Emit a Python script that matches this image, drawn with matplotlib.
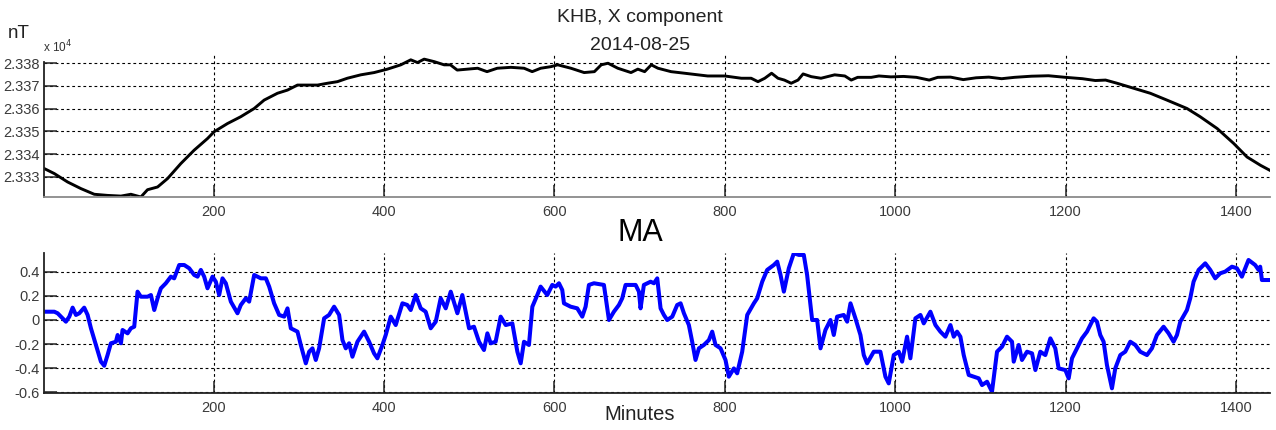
import numpy as np
import matplotlib
matplotlib.use('Agg')
import matplotlib.pyplot as plt

plt.rcParams['font.family'] = ['Liberation Sans', 'DejaVu Sans']

# X component (nT)
x_min = [1.3, 13.1, 28.7, 44.3, 60, 75.6, 91.3, 103, 114.7, 122.5, 134.3, 146, 161.6,
         177.3, 192.9, 200.7, 216.4, 232, 247.7, 259.4, 275, 286.8, 298.5, 310, 322,
         333.7, 345.4, 357, 372.8, 388.5, 404, 419.8, 431.5, 439.4, 447.2, 459, 470.7,
         478, 486, 498, 510, 521, 533, 549, 564.5, 574, 584, 596, 604, 619.5, 635, 647,
         655, 663, 674.5, 690, 698, 706, 713.8, 721.6, 737, 753, 768.6, 780, 800, 819.5,
         831, 839, 847, 855, 862.5, 870, 878, 886, 892, 901.6, 913, 929, 941, 948.5, 956,
         972, 981, 995, 1010, 1025, 1040, 1050, 1065, 1080, 1095, 1110, 1125, 1140, 1160,
         1180, 1200, 1220, 1235, 1247, 1260.5, 1280, 1299.5, 1319, 1342.6, 1358, 1378,
         1397.5, 1413, 1429, 1440]
x_val = [23333.7, 23331.5, 23327.8, 23324.9, 23322.4, 23321.9, 23321.6, 23322.4, 23321.2,
         23324.4, 23325.6, 23329.3, 23335.9, 23341.8, 23346.9, 23349.9, 23353.5, 23356.5,
         23360.1, 23363.8, 23366.8, 23368.2, 23370.4, 23370.4, 23370.4, 23371.2, 23371.9,
         23373.4, 23374.9, 23375.9, 23377.4, 23379.3, 23381.5, 23380.3, 23381.8, 23380.7,
         23379.3, 23379.3, 23377.0, 23377.4, 23377.8, 23376.3, 23377.8, 23378.2, 23377.8,
         23376.3, 23377.8, 23378.5, 23379.3, 23377.8, 23375.9, 23376.3, 23379.3, 23380.0,
         23377.8, 23375.9, 23377.4, 23376.3, 23379.3, 23377.8, 23376.3, 23375.6, 23374.9,
         23374.4, 23374.4, 23373.4, 23373.4, 23371.9, 23373.4, 23375.6, 23373.4, 23372.6,
         23371.2, 23372.6, 23375.3, 23374.1, 23373.4, 23374.9, 23374.4, 23372.6, 23373.8,
         23373.8, 23374.4, 23374.0, 23374.2, 23373.8, 23372.6, 23373.8, 23373.9, 23372.8,
         23373.6, 23373.9, 23373.2, 23373.8, 23374.3, 23374.5, 23373.8, 23373.2, 23372.4,
         23372.6, 23371.2, 23369.0, 23366.8, 23363.8, 23360.1, 23356.5, 23351.3, 23344.7,
         23338.8, 23335.1, 23332.9]

# MA series
ma_min = [1.3, 13.1, 17.0, 20.9, 26.7, 30.7, 34.6, 38.5, 42.4, 48.2, 52.2, 56.1, 61.9,
          67.8, 71.7, 75.6, 79.5, 85.4, 87.4, 91.3, 93.2, 99.1, 103, 106.9, 110.8, 114.7,
          122.5, 126.5, 130.4, 134.3, 138.2, 144.0, 149.9, 153.8, 159.7, 165.6, 171.4,
          177.3, 181.2, 185.1, 189.0, 192.9, 198.8, 202.7, 206.6, 210.5, 214.4, 220.3,
          228.1, 232, 237.9, 241.8, 247.7, 255.5, 261.4, 265.3, 271.1, 277, 282.9, 286.8,
          290.7, 294.6, 298.5, 302.4, 308.3, 312.2, 316.1, 320, 323.9, 329.8, 335.6, 341.5,
          347.4, 351.3, 355.2, 359.1, 363.0, 368.9, 376.7, 382.6, 388.4, 392.3, 398.2,
          402.1, 408.0, 413.8, 421.7, 427.5, 431.4, 437.3, 443.2, 449.0, 454.9, 460.8,
          466.6, 472.5, 478.4, 486.2, 492.0, 499.9, 505.7, 511.6, 517.4, 521.4, 525.3,
          531.1, 537.0, 542.9, 550.7, 556.6, 560.5, 564.4, 570.2, 574.2, 580.0, 583.9,
          591.7, 597.6, 601.5, 605.4, 609.3, 611.3, 619.1, 626.9, 632.8, 636.7, 640.6,
          646.5, 658.2, 664.1, 669.9, 675.8, 679.7, 683.6, 689.5, 695.4, 699.3, 701.2,
          705.1, 713.0, 716.9, 720.8, 724.7, 728.6, 732.5, 738.4, 744.2, 748.2, 752.1,
          757.9, 761.8, 765.7, 769.7, 775.5, 781.4, 785.3, 789.2, 795.1, 800.9, 804.8,
          810.7, 814.6, 820.5, 826.4, 834.2, 838.1, 844.0, 849.8, 857.6, 861.6, 865.5,
          869.4, 875.2, 881.1, 887.0, 892.8, 896.7, 902.6, 908.5, 912.4, 918.2, 924.1,
          928.0, 931.9, 939.7, 943.7, 947.6, 953.4, 959.3, 963.2, 967.1, 974.9, 982.7,
          988.6, 992.5, 998.4, 1004.3, 1008.2, 1014.0, 1017.9, 1023.8, 1029.7, 1033.6,
          1041.4, 1047.3, 1053.1, 1059.0, 1064.9, 1068.8, 1072.7, 1076.6, 1080.5, 1086.4,
          1092.2, 1098.1, 1102.0, 1107.9, 1113.7, 1119.6, 1125.5, 1131.3, 1137.2, 1139.2,
          1145.0, 1148.9, 1154.8, 1160.7, 1164.6, 1170.4, 1176.3, 1182.2, 1188.0, 1191.9,
          1199.8, 1203.7, 1207.6, 1213.5, 1219.3, 1225.2, 1233.0, 1236.9, 1240.8, 1244.7,
          1248.6, 1254.5, 1258.4, 1264.3, 1270.1, 1276.0, 1281.9, 1287.7, 1295.6, 1301.4,
          1307.3, 1315.1, 1321.0, 1326.8, 1330.8, 1334.7, 1342.5, 1346.4, 1350.3, 1356.2,
          1364.0, 1369.9, 1375.7, 1381.6, 1387.4, 1395.3, 1401.1, 1407.0, 1414.8, 1422.6,
          1426.6, 1428.5, 1430.5, 1440]
ma_val = [0.069, 0.069, 0.056, 0.028, -0.014, 0.028, 0.103, 0.042, 0.056, 0.103, 0.042,
          -0.069, -0.208, -0.347, -0.381, -0.292, -0.194, -0.181, -0.125, -0.194, -0.083,
          -0.111, -0.069, -0.056, 0.236, 0.194, 0.194, 0.208, 0.083, 0.181, 0.264, 0.306,
          0.361, 0.347, 0.458, 0.458, 0.431, 0.375, 0.361, 0.417, 0.361, 0.264, 0.361,
          0.319, 0.208, 0.347, 0.306, 0.153, 0.056, 0.125, 0.181, 0.153, 0.375, 0.347,
          0.347, 0.278, 0.139, 0.042, 0.028, 0.097, -0.069, -0.083, -0.097, -0.208, -0.361,
          -0.264, -0.236, -0.333, -0.236, 0.014, 0.042, 0.111, 0.042, -0.167, -0.236,
          -0.194, -0.306, -0.181, -0.097, -0.181, -0.278, -0.319, -0.208, -0.125, 0.028,
          -0.042, 0.139, 0.125, 0.083, 0.208, 0.097, 0.069, -0.069, -0.014, 0.181, 0.097,
          0.236, 0.056, 0.208, -0.069, -0.056, -0.181, -0.250, -0.111, -0.194, -0.181,
          0.028, -0.042, -0.028, -0.264, -0.361, -0.181, -0.208, 0.111, 0.208, 0.278,
          0.208, 0.292, 0.278, 0.306, 0.250, 0.139, 0.111, 0.097, 0.028, 0.111, 0.292,
          0.306, 0.292, 0.0, 0.069, 0.125, 0.181, 0.292, 0.292, 0.292, 0.236, 0.097,
          0.292, 0.319, 0.306, 0.347, 0.097, 0.042, 0.0, 0.028, 0.125, 0.139, 0.056,
          -0.042, -0.181, -0.333, -0.236, -0.208, -0.167, -0.097, -0.208, -0.236, -0.333,
          -0.472, -0.403, -0.444, -0.264, 0.042, 0.139, 0.181, 0.319, 0.417, 0.458, 0.486,
          0.375, 0.236, 0.431, 0.556, 0.542, 0.542, 0.375, 0.0, 0.0, -0.236, -0.083, 0.0,
          -0.125, 0.028, 0.042, -0.014, 0.139, 0.014, -0.125, -0.292, -0.361, -0.264,
          -0.264, -0.472, -0.528, -0.292, -0.264, -0.347, -0.139, -0.319, 0.014, 0.042,
          -0.028, 0.069, -0.042, -0.097, -0.139, -0.042, -0.139, -0.097, -0.139, -0.292,
          -0.458, -0.472, -0.486, -0.542, -0.514, -0.597, -0.264, -0.222, -0.139, -0.181,
          -0.347, -0.208, -0.333, -0.264, -0.278, -0.417, -0.264, -0.292, -0.153, -0.236,
          -0.403, -0.417, -0.486, -0.319, -0.236, -0.153, -0.097, 0.014, -0.014, -0.125,
          -0.181, -0.375, -0.569, -0.403, -0.292, -0.264, -0.181, -0.208, -0.264, -0.292,
          -0.236, -0.125, -0.056, -0.111, -0.181, -0.125, -0.014, 0.083, 0.181, 0.319,
          0.417, 0.472, 0.417, 0.347, 0.389, 0.403, 0.444, 0.431, 0.361, 0.500, 0.458,
          0.417, 0.444, 0.333, 0.333]

x_ticks = [200, 400, 600, 800, 1000, 1200, 1400]
top_yticks = [23330, 23340, 23350, 23360, 23370, 23380]
ma_yticks = [-0.6, -0.4, -0.2, 0, 0.2, 0.4]
ma_ylabels = ['-0.6', '-0.4', '-0.2', '0', '0.2', '0.4']

W, H = 1276, 430
fig = plt.figure(figsize=(W / 100, H / 100), dpi=100)

def px_axes(left, top, right, bottom):
    return fig.add_axes([left / W, 1 - bottom / H, (right - left) / W, (bottom - top) / H])

def style(ax, bottom_col):
    for s in ['top', 'right']:
        ax.spines[s].set_visible(False)
    ax.spines['left'].set_color('#222222')
    ax.spines['bottom'].set_color(bottom_col)
    ax.spines['left'].set_linewidth(1.3)
    ax.spines['bottom'].set_linewidth(1.3)
    ax.grid(True, color='black', linestyle=(0, (2.5, 2.5)), linewidth=0.8)
    ax.tick_params(direction='in', length=9, width=1.1, labelsize=10.5,
                   labelcolor='#3a3a3a', color='#222222')
    ax.tick_params(axis='y', pad=3)
    ax.tick_params(axis='x', pad=6)
    ax.set_xlim(1, 1440)
    ax.set_xticks(x_ticks)

ax1 = px_axes(44, 53, 1270, 197)
ax1.plot(x_min, x_val, color='black', linewidth=2.1)
ax1.set_ylim(23321.2, 23384.5)
ax1.set_yticks(top_yticks)
ax1.set_yticklabels(['%.3f' % (v / 1e4) for v in top_yticks])
style(ax1, '#8a8a8a')
ax1.spines['left'].set_bounds(23321.2, 23380.5)

ax2 = px_axes(44, 253, 1270, 393)
ax2.plot(ma_min, ma_val, color='#0000ff', linewidth=2.9)
ax2.set_ylim(-0.608, 0.558)
ax2.set_yticks(ma_yticks)
ax2.set_yticklabels(ma_ylabels)
style(ax2, '#222222')

fig.text(640 / W, 1 - 17 / H, 'KHB, X component', ha='center', va='center',
         fontsize=14, color='#222222')
fig.text(640 / W, 1 - 45 / H, '2014-08-25', ha='center', va='center',
         fontsize=14, color='#222222')
fig.text(8 / W, 1 - 33 / H, 'nT', ha='left', va='center', fontsize=13.5, color='#222222')
fig.text(43 / W, 1 - 47 / H, r'x 10$^4$', ha='left', va='center', fontsize=8.5,
         color='#333333')
fig.text(640 / W, 1 - 233 / H, 'MA', ha='center', va='center', fontsize=22,
         color='black')
fig.text(640 / W, 1 - 415 / H, 'Minutes', ha='center', va='center', fontsize=14.5,
         color='#222222')

plt.savefig('out.png', dpi=100)
